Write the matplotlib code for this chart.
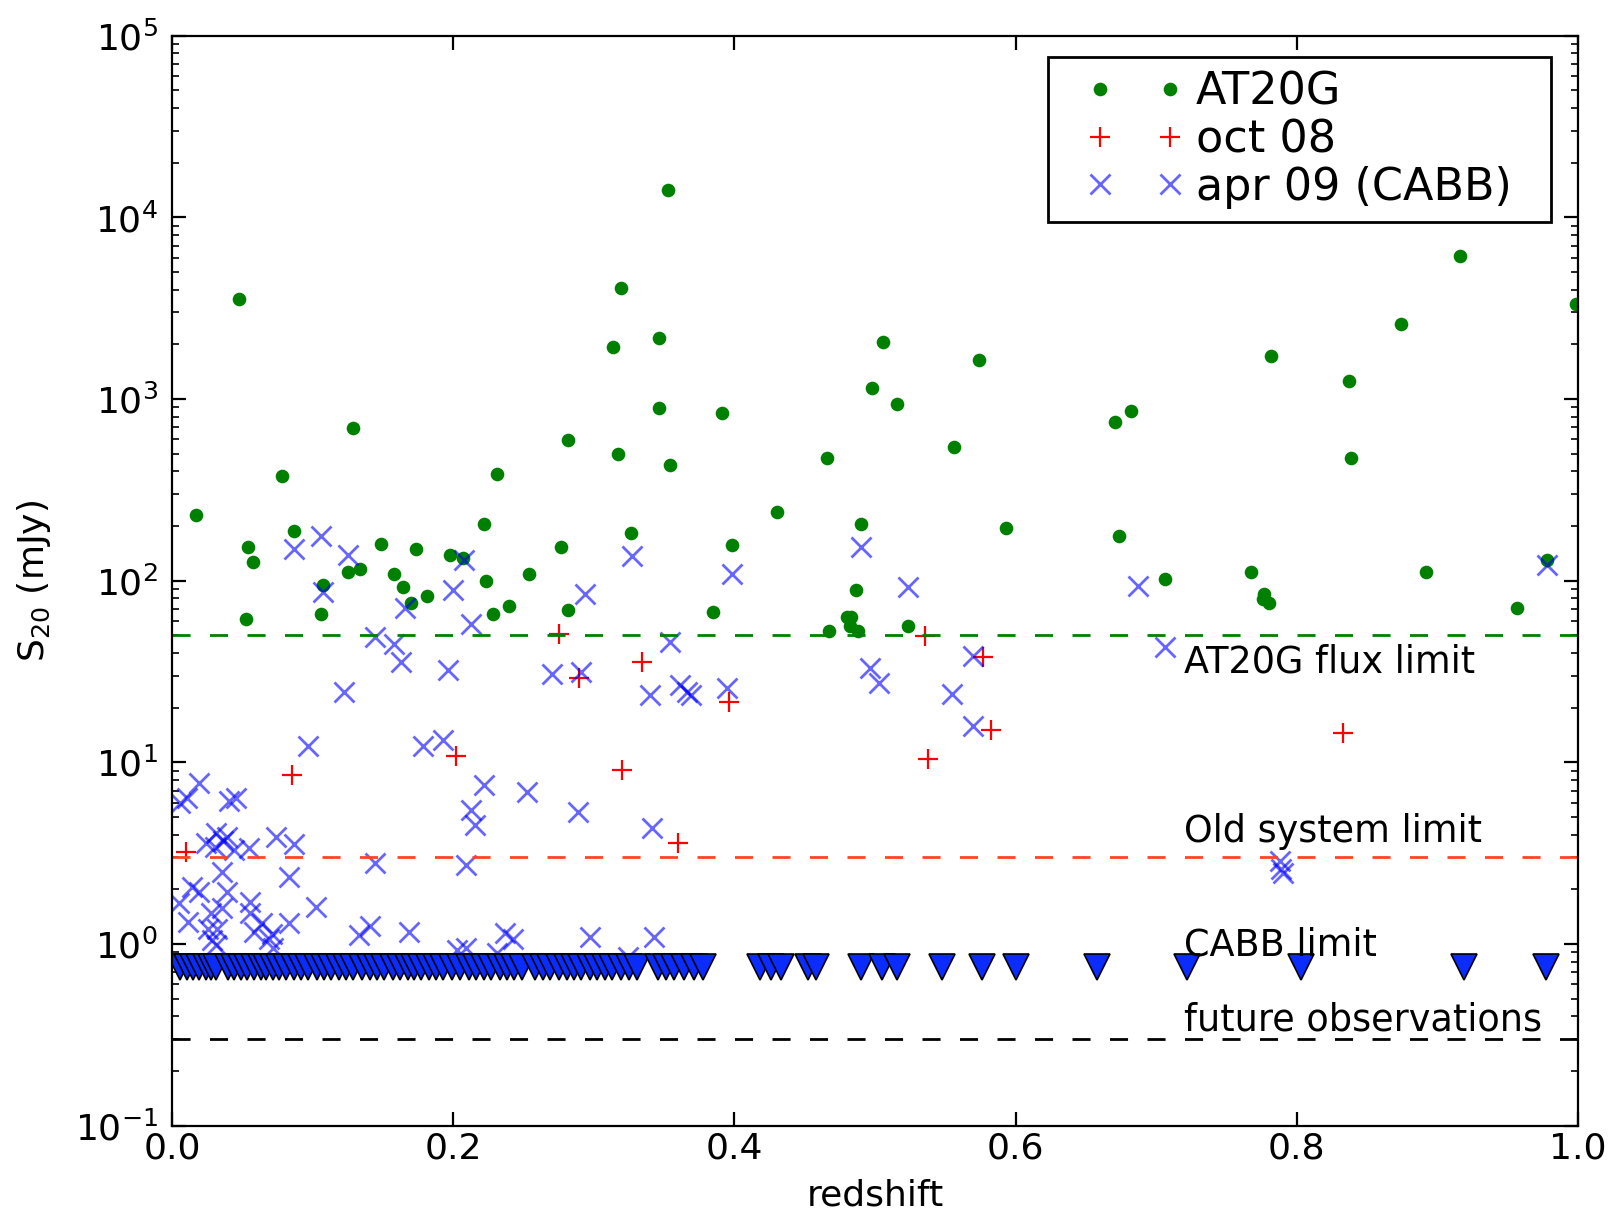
import numpy as np
import matplotlib
matplotlib.use("Agg")
import matplotlib.pyplot as plt
from matplotlib.lines import Line2D
from matplotlib.legend_handler import HandlerLine2D
from matplotlib.ticker import NullLocator

# ── AT20G catalogue fluxes (redshift, S20 in mJy) ───────────────────────────
at20g_z = [0.0168, 0.0476, 0.0524, 0.0543, 0.0573, 0.0784, 0.0865, 0.1057, 0.1076,
           0.1251, 0.1285, 0.1334, 0.149, 0.1576, 0.164, 0.170, 0.1737, 0.1815,
           0.1977, 0.2071, 0.222, 0.2232, 0.228, 0.2315, 0.240, 0.254, 0.2769,
           0.2813, 0.2816, 0.3138, 0.3171, 0.3195, 0.3527, 0.3463, 0.3463, 0.3543,
           0.3915, 0.3268, 0.3982, 0.4302, 0.3851, 0.4658, 0.506, 0.498, 0.5158,
           0.574, 0.5563, 0.49, 0.5933, 0.4864, 0.480, 0.483, 0.4823, 0.4672,
           0.488, 0.5238, 0.916, 0.9984, 0.874, 0.782, 0.837, 0.6705, 0.682,
           0.8388, 0.6735, 0.7675, 0.892, 0.7063, 0.777, 0.776, 0.780, 0.9564, 0.9778]
at20g_s = [231, 3535, 61.5, 154, 126, 375, 189, 65.5, 95,
           112, 689, 116, 159, 109, 92, 75, 150, 82,
           138, 133, 205, 100, 65.5, 388, 73, 109, 154,
           595, 69, 1941, 500, 4083, 14090, 2168, 892, 435,
           841, 183, 158, 238, 67, 473, 2050, 1154, 942,
           1633, 548, 206, 194, 89, 63.5, 63.5, 56.5, 53,
           53, 56.5, 6120, 3350, 2590, 1718, 1262, 747, 865,
           471, 177, 112, 112, 102, 84, 79, 75, 71, 130]

# ── October 2008 detections ─────────────────────────────────────────────────
oct08_z = [0.0102, 0.0855, 0.202, 0.2756, 0.2893, 0.3198, 0.3343, 0.360, 0.396,
           0.5357, 0.5375, 0.5768, 0.5826, 0.8326]
oct08_s = [3.2, 8.5, 10.8, 51, 29, 9.1, 35.9, 3.6, 21.5,
           49.7, 10.4, 38, 15.1, 14.6]

# ── April 2009 (CABB) detections ────────────────────────────────────────────
apr09_z = [0.0865, 0.106, 0.1076, 0.1251, 0.1443, 0.1576, 0.1626, 0.1657, 0.1223,
           0.1966, 0.1996, 0.2079, 0.2126, 0.2706, 0.2912, 0.2934, 0.3271, 0.340,
           0.3543, 0.361, 0.366, 0.369, 0.395, 0.398, 0.49, 0.4963, 0.503, 0.5238,
           0.5545, 0.5696, 0.5696, 0.687, 0.706, 0.9778,
           0.0964, 0.1786, 0.193, 0.788, 0.789, 0.790,
           0.006, 0.0105, 0.0192, 0.0405, 0.0453, 0.2218, 0.2527, 0.2124, 0.2154,
           0.2886, 0.3416, 0.0239, 0.031, 0.0393, 0.0306, 0.0548, 0.0737, 0.0867,
           0.036, 0.044, 0.0832, 0.1443, 0.2088, 0.0358, 0.0393, 0.0144, 0.0192,
           0.005, 0.0116, 0.0353, 0.0275, 0.0553, 0.0553, 0.0322, 0.0258, 0.0287,
           0.031, 0.0583, 0.069, 0.0642, 0.0832, 0.072, 0.0713, 0.1021, 0.133,
           0.141, 0.1685, 0.203, 0.209, 0.2365, 0.2428, 0.231, 0.2975, 0.343, 0.324]
apr09_s = [150, 177, 87, 138, 49, 45, 35.6, 71, 24.4,
           32.3, 89, 130, 58, 30.6, 31.6, 84, 137, 23.6,
           46, 26.7, 24.4, 23.6, 25.8, 109, 154, 33, 27.3, 92,
           23.8, 38.7, 15.9, 94, 43.4, 122,
           12.3, 12.3, 13.2, 2.85, 2.6, 2.45,
           6.0, 6.4, 7.7, 6.1, 6.35, 7.5, 6.85, 5.5, 4.5,
           5.3, 4.34, 3.6, 4.07, 3.9, 3.44, 3.37, 3.9, 3.56,
           3.7, 3.3, 2.35, 2.79, 2.73, 2.5, 1.94, 2.07, 1.94,
           1.68, 1.33, 1.57, 1.48, 1.71, 1.48, 1.21, 1.21, 1.05,
           0.99, 1.16, 1.06, 1.3, 1.3, 0.95, 1.14, 1.59, 1.12,
           1.25, 1.16, 0.93, 0.95, 1.15, 1.06, 0.89, 1.1, 1.1, 0.85]

# ── CABB non-detections (upper limits) ──────────────────────────────────────
ul_z = [0.006, 0.011, 0.015, 0.019, 0.024, 0.028, 0.031, 0.040, 0.044, 0.049,
        0.053, 0.058, 0.063, 0.067, 0.072, 0.076, 0.081, 0.087, 0.092, 0.097,
        0.103, 0.108, 0.113, 0.119, 0.124, 0.129, 0.135, 0.141, 0.146, 0.151,
        0.157, 0.162, 0.168, 0.172, 0.177, 0.183, 0.188, 0.193, 0.199, 0.205,
        0.211, 0.216, 0.222, 0.227, 0.233, 0.238, 0.243, 0.249, 0.258, 0.264,
        0.269, 0.275, 0.281, 0.286, 0.291, 0.297, 0.302, 0.308, 0.313, 0.319,
        0.325, 0.331, 0.346, 0.351, 0.357, 0.364, 0.371, 0.378, 0.418, 0.426,
        0.433, 0.452, 0.458, 0.490, 0.505, 0.516, 0.548, 0.576, 0.600, 0.658,
        0.722, 0.803, 0.919, 0.977]
CABB_UL_MJY = 0.75
ul_s = [CABB_UL_MJY] * len(ul_z)

# ── survey flux limits ──────────────────────────────────────────────────────
limit_vals = [50, 3, 0.3]
limit_colors = ["green", "#ff4422", "black"]
label_text = ["AT20G flux limit", "Old system limit", "CABB limit", "future observations"]
label_y = [31.4, 3.65, 0.86, 0.336]

fig = plt.figure(figsize=(8.06, 6.06), dpi=200)
ax = fig.add_axes([0.1067, 0.0712, 0.8722, 0.8993])

ax.plot(at20g_z, at20g_s, "o", color="green", ms=4.9, mew=0, label="AT20G")
ax.plot(oct08_z, oct08_s, "+", color="red", ms=7, mew=0.8, label="oct 08")
ax.plot(apr09_z, apr09_s, "x", color="blue", alpha=0.6, ms=7.5, mew=1.0,
        label="apr 09 (CABB)")
ax.plot(ul_z, ul_s, "v", color="#0a2cff", mec="black", mew=0.6, ms=9.5)

for val, col in zip(limit_vals, limit_colors):
    ax.axhline(val, color=col, lw=1, dashes=(6.5, 7))

for txt, yv in zip(label_text, label_y):
    ax.text(0.72, yv, txt, fontsize=13.2, va="baseline", ha="left")

ax.set_yscale("log")
ax.set_xlim(0, 1)
ax.set_ylim(0.1, 1e5)
ax.xaxis.set_minor_locator(NullLocator())
ax.set_xlabel("redshift", fontsize=13, labelpad=4.5)
ax.set_ylabel("S$_{20}$ (mJy)", fontsize=13, labelpad=8)

ax.tick_params(which="both", direction="in", top=True, right=True)
ax.tick_params(which="major", length=5, width=0.8, labelsize=13)
ax.tick_params(axis="x", pad=2.2)
ax.tick_params(axis="y", pad=5)
ax.tick_params(which="minor", length=2.5, width=0.6)

# legend box placed to match the original frame; markers spread inside
leg = ax.legend(loc="upper right", bbox_to_anchor=(0.6228, 0.0, 0.3582, 0.9802),
                mode="expand", numpoints=2, fontsize=16, fancybox=False,
                edgecolor="black", framealpha=1, borderaxespad=0,
                handlelength=3.33, handletextpad=-0.3, labelspacing=0.1,
                borderpad=0.3,
                handler_map={Line2D: HandlerLine2D(marker_pad=0.88, numpoints=2)})
leg.get_frame().set_linewidth(1.0)

fig.savefig("out.png", dpi=200)
